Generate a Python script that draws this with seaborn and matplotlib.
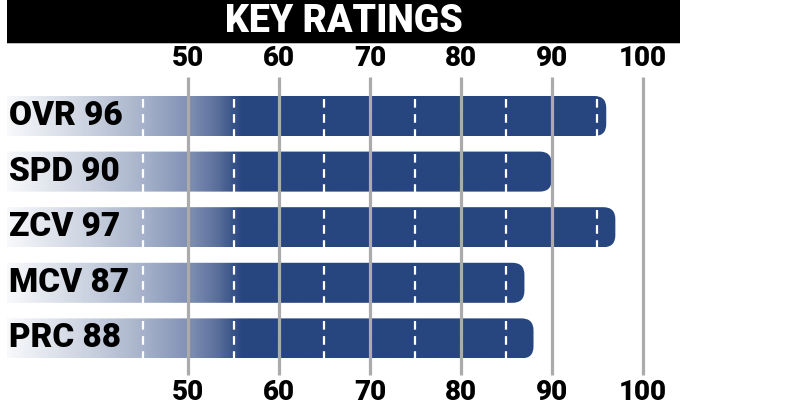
#!/usr/bin/env python3
"""Key ratings bar chart: horizontal rounded bars with a white-to-navy fade."""

import matplotlib
matplotlib.use("Agg")
import matplotlib.pyplot as plt
import numpy as np
import seaborn as sns
from matplotlib.colors import LinearSegmentedColormap, Normalize
from matplotlib.patches import FancyBboxPatch, Rectangle

# %% Data
categories = ["OVR", "SPD", "ZCV", "MCV", "PRC"]
ratings = [96, 90, 97, 87, 88]
tick_values = [50, 60, 70, 80, 90, 100]
dash_values = [45, 55, 65, 75, 85, 95]
title = "KEY RATINGS"

labels = [f"{c} {v}" for c, v in zip(categories, ratings)]

# %% Style
sns.set_theme(style="white")
plt.rcParams["font.family"] = ["Roboto", "DejaVu Sans"]

NAVY = "#27457f"
GRID = "#ababab"
W, H = 785, 415
PX_PER_UNIT = 9.091      # horizontal pixels per rating point
PX_PER_ROW = 55.6        # vertical pixels between bar centres
ROW0_PX = 116            # pixel y of first bar centre

fade = LinearSegmentedColormap.from_list(
    "fade",
    [(0.0, "#f8f9fb"), (0.38, "#c6cedd"), (0.58, "#a6b2ca"),
     (0.77, "#8191b5"), (0.89, "#5c709c"), (1.0, NAVY)],
)
fade_norm = Normalize(vmin=30, vmax=56, clip=True)

fig = plt.figure(figsize=(W / 100, H / 100), dpi=100)
ax = fig.add_axes([7 / W, 0, (W - 7) / W, 1])

sns.barplot(x=ratings, y=labels, orient="h", width=0.72, color=NAVY, ax=ax)

x_left = 50 - (188.06 - 7) / PX_PER_UNIT
x_right = 50 + (W - 188.06) / PX_PER_UNIT
ylim = ((H - ROW0_PX) / PX_PER_ROW, -ROW0_PX / PX_PER_ROW)
ax.axis("off")

# Replace the square seaborn bars with rounded, gradient-filled ones
radius_px = 12
grad_x = np.linspace(0, 110, 600)
grad = fade(fade_norm(grad_x))[np.newaxis, :, :]
for bar, label, value in zip(list(ax.patches), labels, ratings):
    x0, y0 = bar.get_x(), bar.get_y()
    bw, bh = bar.get_width(), bar.get_height()
    bar.set_visible(False)
    rounded = FancyBboxPatch(
        (x0, y0), bw, bh,
        boxstyle=f"round,pad=0,rounding_size={radius_px / PX_PER_UNIT}",
        mutation_aspect=PX_PER_UNIT / PX_PER_ROW,
        facecolor="none", edgecolor="none",
    )
    ax.add_patch(rounded)
    img = ax.imshow(grad, extent=(0, 110, y0 + bh, y0), aspect="auto",
                    interpolation="bilinear", zorder=1)
    img.set_clip_path(rounded)

    # white dashed markers inside the bar
    for d in dash_values:
        if d < value - 0.3:
            ax.vlines(d, y0 + bh * 0.07, y0 + bh, colors="white",
                      linewidth=1.6, linestyles=(0, (3.9, 2.9)), zorder=3)

    yc = y0 + bh / 2
    ax.text(30.25, yc, label, ha="left", va="center", fontsize=24,
            fontweight="black", color="black", zorder=5)

ax.set_aspect("auto")
ax.set_xlim(x_left, x_right)
ax.set_ylim(*ylim)

# grey reference lines and their labels, top and bottom
grid_top = (77 - ROW0_PX) / PX_PER_ROW
grid_bot = (375 - ROW0_PX) / PX_PER_ROW
ax.vlines(tick_values, grid_bot, grid_top, colors=GRID, linewidth=2.3, zorder=2)
for t in tick_values:
    ax.text(t, (59 - ROW0_PX) / PX_PER_ROW, str(t), ha="center", va="center",
            fontsize=20, fontweight="black", color="black")
    ax.text(t, (393 - ROW0_PX) / PX_PER_ROW, str(t), ha="center", va="center",
            fontsize=20, fontweight="black", color="black")

# title band
fig.add_artist(Rectangle((7 / W, 1 - 43 / H), 673 / W, 43 / H,
                         transform=fig.transFigure, facecolor="black",
                         edgecolor="none"))
fig.add_artist(Rectangle((7 / W, 1 - 44 / H), 673 / W, 1.2 / H,
                         transform=fig.transFigure, facecolor="#bbbbbb",
                         edgecolor="none"))
fig.text(344 / W, 1 - 22 / H, title, ha="center", va="center", fontsize=27,
         fontweight="black", color="white")

fig.savefig("out.png", dpi=100)
